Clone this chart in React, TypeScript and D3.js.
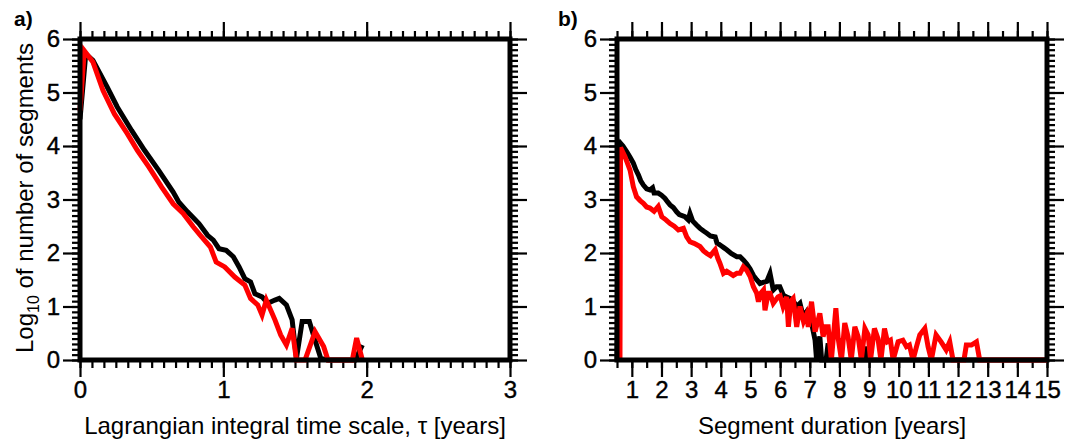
import React, { useEffect, useRef } from 'react';
import * as d3 from 'd3';

// panel a: log10 of segment counts vs Lagrangian integral time scale (years)
const tauBlack = [0, 0.04, 0.09, 0.19, 0.26, 0.36, 0.45, 0.55, 0.65, 0.69, 0.75, 0.83, 0.89, 0.93, 0.97, 1.02, 1.07, 1.11, 1.15, 1.19, 1.22, 1.27, 1.31, 1.36, 1.39, 1.44, 1.48, 1.51, 1.55, 1.6, 1.64, 1.68, 1.73, 1.92, 1.97];
const logBlackA = [4.5, 5.72, 5.6, 5.1, 4.73, 4.29, 3.92, 3.54, 3.14, 2.95, 2.77, 2.55, 2.33, 2.24, 2.08, 2.05, 1.93, 1.74, 1.52, 1.46, 1.24, 1.18, 1.06, 1.12, 1.15, 1.03, 0.75, 0.03, 0.72, 0.72, 0.37, 0.03, 0, 0, 0.28];
const tauRed = [0, 0.03, 0.09, 0.16, 0.24, 0.33, 0.4, 0.48, 0.57, 0.65, 0.72, 0.79, 0.84, 0.91, 0.95, 1.01, 1.08, 1.15, 1.19, 1.24, 1.27, 1.3, 1.36, 1.4, 1.44, 1.48, 1.51, 1.57, 1.64, 1.7, 1.73, 1.9, 1.93, 1.97];
const logRedA = [4.66, 5.78, 5.57, 5.04, 4.6, 4.23, 3.92, 3.61, 3.23, 2.92, 2.74, 2.49, 2.33, 2.11, 1.83, 1.74, 1.55, 1.4, 1.15, 1.03, 0.84, 1.12, 0.75, 0.47, 0.28, 0.59, 0, 0, 0.53, 0.25, 0, 0, 0.41, 0];

// panel b: log10 of segment counts vs segment duration (years)
const durBlack = [0.5, 0.55, 0.62, 0.7, 0.83, 0.95, 1.05, 1.14, 1.22, 1.3, 1.39, 1.5, 1.61, 1.7, 1.75, 1.89, 2.0, 2.12, 2.2, 2.29, 2.4, 2.51, 2.6, 2.79, 2.9, 2.96, 3.05, 3.19, 3.3, 3.42, 3.53, 3.65, 3.81, 3.87, 4.0, 4.1, 4.2, 4.35, 4.54, 4.65, 4.76, 4.87, 4.99, 5.1, 5.21, 5.32, 5.43, 5.55, 5.66, 5.77, 5.88, 5.99, 6.11, 6.22, 6.33, 6.45, 6.56, 6.67, 6.78, 6.89, 7.0, 7.06, 7.18, 7.23, 7.34, 7.4, 7.55, 7.62, 7.68, 8.8, 8.86, 8.92, 15];
const logBlackB = [0, 3.95, 4.05, 4.0, 3.89, 3.78, 3.68, 3.55, 3.46, 3.35, 3.27, 3.2, 3.18, 3.22, 3.12, 3.12, 3.08, 3.02, 2.96, 2.9, 2.85, 2.77, 2.72, 2.68, 2.62, 2.74, 2.6, 2.52, 2.46, 2.41, 2.37, 2.32, 2.3, 2.19, 2.14, 2.1, 2.06, 1.99, 1.93, 1.93, 1.87, 1.8, 1.7, 1.58, 1.5, 1.43, 1.45, 1.47, 1.62, 1.31, 1.37, 1.37, 1.21, 1.18, 1.15, 1.1, 1.0, 1.06, 0.81, 0.9, 0.78, 0.69, 0.37, 0, 0.44, 0, 0, 0.31, 0, 0, 0.25, 0, 0];
const durRed = [0.6, 0.62, 0.77, 0.94, 1.05, 1.16, 1.28, 1.39, 1.5, 1.61, 1.75, 1.89, 2.01, 2.15, 2.29, 2.43, 2.57, 2.74, 2.85, 2.96, 3.1, 3.3, 3.42, 3.53, 3.65, 3.81, 3.9, 3.97, 4.09, 4.2, 4.31, 4.42, 4.54, 4.65, 4.76, 4.87, 4.99, 5.1, 5.21, 5.27, 5.35, 5.44, 5.49, 5.6, 5.66, 5.77, 5.93, 6.0, 6.1, 6.22, 6.28, 6.36, 6.44, 6.56, 6.67, 6.79, 6.89, 6.95, 7.06, 7.18, 7.26, 7.34, 7.45, 7.54, 7.62, 7.73, 7.88, 7.96, 8.07, 8.18, 8.29, 8.4, 8.52, 8.63, 8.74, 8.86, 8.97, 9.05, 9.18, 9.3, 9.4, 9.52, 9.62, 9.72, 9.81, 9.98, 10.14, 10.26, 10.36, 10.48, 10.6, 10.71, 10.88, 10.99, 11.1, 11.26, 11.43, 11.6, 11.72, 11.83, 12.2, 12.28, 12.45, 12.62, 12.73, 15];
const logRedB = [0, 3.97, 3.8, 3.55, 3.24, 3.05, 2.98, 2.93, 2.86, 2.84, 2.78, 2.87, 2.68, 2.62, 2.55, 2.5, 2.43, 2.46, 2.3, 2.21, 2.18, 2.12, 2.04, 1.99, 1.95, 2.06, 1.9, 1.81, 1.62, 1.66, 1.62, 1.58, 1.62, 1.62, 1.74, 1.68, 1.56, 1.37, 1.25, 1.09, 1.25, 1.31, 0.93, 1.25, 1.25, 1.06, 1.18, 1.2, 1.0, 1.18, 0.62, 1.1, 1.15, 0.62, 1.0, 0.72, 0.85, 0.62, 1.09, 0.53, 0.7, 0.87, 0.44, 0.62, 0.62, 0, 0.97, 0.4, 0, 0.69, 0.44, 0, 0.62, 0.44, 0, 0.59, 0.47, 0, 0.59, 0.4, 0, 0.59, 0.34, 0.37, 0, 0.34, 0.37, 0.25, 0.28, 0, 0.25, 0.47, 0.59, 0.25, 0, 0.47, 0.34, 0.19, 0.34, 0, 0, 0.28, 0.28, 0.34, 0, 0];

const yTicks = [0, 1, 2, 3, 4, 5, 6];
const xTicksA = [0, 1, 2, 3];
const xTicksB = [1, 2, 3, 4, 5, 6, 7, 8, 9, 10, 11, 12, 13, 14, 15];

const FONT = 'Liberation Sans, Arial, sans-serif';
const top = 39;
const bottom = 360;

function drawPanel(svg: any, cfg: any) {
    const x = d3.scaleLinear().domain(cfg.xDomain).range([cfg.left, cfg.right]);
    const y = d3.scaleLinear().domain([0, 6]).range([bottom, top]);
    const yMinor = d3.range(0, 61).map(i => i / 10);

    const tidy = (g: any) => {
        g.select('.domain').remove();
        g.selectAll('line').attr('stroke-width', 2.2);
        g.attr('font-family', FONT);
    };
    const bigText = (g: any) => {
        g.attr('font-size', 24);
        g.selectAll('text').attr('stroke', 'currentColor').attr('stroke-width', 0.4);
    };
    const noLabel = () => '';

    // minor ticks on all sides
    svg.append('g').attr('transform', `translate(${cfg.left},0)`)
        .call(d3.axisLeft(y).tickValues(yMinor).tickSize(8).tickFormat(noLabel)).call(tidy);
    svg.append('g').attr('transform', `translate(${cfg.right},0)`)
        .call(d3.axisRight(y).tickValues(yMinor).tickSize(8).tickFormat(noLabel)).call(tidy);
    svg.append('g').attr('transform', `translate(0,${bottom})`)
        .call(d3.axisBottom(x).tickValues(cfg.xMinor).tickSize(8).tickFormat(noLabel)).call(tidy);
    svg.append('g').attr('transform', `translate(0,${top})`)
        .call(d3.axisTop(x).tickValues(cfg.xMinor).tickSize(8).tickFormat(noLabel)).call(tidy);

    // major ticks, labelled left and bottom
    svg.append('g').attr('transform', `translate(${cfg.left},0)`)
        .call(d3.axisLeft(y).tickValues(yTicks).tickSize(17).tickPadding(3).tickFormat(d3.format('d')))
        .call(tidy).call(bigText);
    svg.append('g').attr('transform', `translate(${cfg.right},0)`)
        .call(d3.axisRight(y).tickValues(yTicks).tickSize(17).tickFormat(noLabel)).call(tidy);
    svg.append('g').attr('transform', `translate(0,${bottom})`)
        .call(d3.axisBottom(x).tickValues(cfg.xMajor).tickSize(17).tickPadding(4).tickFormat(d3.format('d')))
        .call(tidy).call(bigText);
    svg.append('g').attr('transform', `translate(0,${top})`)
        .call(d3.axisTop(x).tickValues(cfg.xMajor).tickSize(17).tickFormat(noLabel)).call(tidy);

    cfg.series.forEach((s: any) => {
        const pts = s.xs.map((v: number, i: number) => [v, s.ys[i]]);
        svg.append('path')
            .datum(pts)
            .attr('fill', 'none')
            .attr('stroke', s.color)
            .attr('stroke-width', 5)
            .attr('stroke-linejoin', 'miter')
            .attr('d', d3.line<number[]>().x(d => x(d[0])).y(d => y(d[1])));
    });

    // frame
    svg.append('rect')
        .attr('x', cfg.left).attr('y', top)
        .attr('width', cfg.right - cfg.left).attr('height', bottom - top)
        .attr('fill', 'none').attr('stroke', 'black').attr('stroke-width', 5);

    svg.append('text')
        .attr('x', cfg.titleX).attr('y', 434)
        .attr('text-anchor', 'middle').attr('font-family', FONT).attr('font-size', 24)
        .text(cfg.title);

    svg.append('text')
        .attr('x', cfg.tagX).attr('y', 26)
        .attr('font-family', FONT).attr('font-size', 21).attr('font-weight', 'bold')
        .text(cfg.tag);
}

export default function App() {
    const ref = useRef<SVGSVGElement>(null);

    useEffect(() => {
        const svg = d3.select(ref.current);
        svg.selectAll('*').remove();

        drawPanel(svg, {
            left: 80, right: 510, xDomain: [0, 3],
            xMinor: d3.range(0, 37).map(i => i / 12), xMajor: xTicksA,
            series: [
                { xs: tauBlack, ys: logBlackA, color: 'black' },
                { xs: tauRed, ys: logRedA, color: '#ff0000' },
            ],
            title: 'Lagrangian integral time scale, \u03c4 [years]', titleX: 295,
            tag: 'a)', tagX: 14,
        });

        drawPanel(svg, {
            left: 617, right: 1047, xDomain: [0.5, 15],
            xMinor: d3.range(1, 31).map(i => i / 2), xMajor: xTicksB,
            series: [
                { xs: durBlack, ys: logBlackB, color: 'black' },
                { xs: durRed, ys: logRedB, color: '#ff0000' },
            ],
            title: 'Segment duration [years]', titleX: 832,
            tag: 'b)', tagX: 558,
        });

        const ylab = svg.append('text')
            .attr('transform', 'translate(33,198) rotate(-90)')
            .attr('text-anchor', 'middle').attr('font-family', FONT).attr('font-size', 24);
        ylab.append('tspan').text('Log');
        ylab.append('tspan').attr('font-size', 16).attr('dy', 6).text('10');
        ylab.append('tspan').attr('dy', -6).text(' of number of segments');
    }, []);

    return (
        <svg ref={ref} width={1066} height={439}
            style={{ position: 'absolute', left: 0, top: 0, background: 'white' }} />
    );
}
